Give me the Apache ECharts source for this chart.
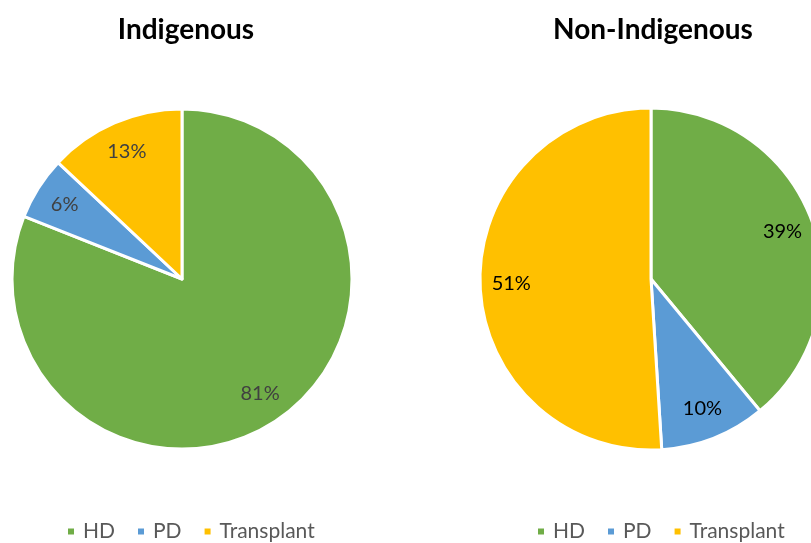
<!DOCTYPE html>
<html>
<head>
<meta charset="utf-8">
<script src="https://cdn.jsdelivr.net/npm/echarts@6/dist/echarts.min.js"></script>
<style>
  html, body { margin: 0; padding: 0; background: #fff; }
  #main { width: 811px; height: 543px; }
</style>
</head>
<body>
<div id="main"></div>
<script>
// categories and values (percent)
const categories = ["HD", "PD", "Transplant"];
const indigenous = [81, 6, 13];
const nonIndigenous = [39, 10, 51];
const colors = ["#70AD47", "#5B9BD5", "#FFC000"];
const titles = ["Indigenous", "Non-Indigenous"];

const font = "Lato, 'Open Sans', sans-serif";

function toData(values) {
  return categories.map((name, i) => ({ name: name, value: values[i] }));
}

// visible pie, no labels
function piePart(values, center, r) {
  return {
    type: "pie",
    center: center,
    radius: r,
    startAngle: 90,
    clockwise: true,
    label: { show: false },
    labelLine: { show: false },
    emphasis: { scale: false },
    itemStyle: { borderColor: "#fff", borderWidth: 3 },
    data: toData(values),
  };
}

// transparent ring used only to place the labels at ~0.8 of the radius
function labelPart(values, center, r, color) {
  return {
    type: "pie",
    center: center,
    radius: [r * 0.6, r],
    startAngle: 90,
    clockwise: true,
    silent: true,
    legendHoverLink: false,
    itemStyle: { color: "rgba(0,0,0,0)" },
    label: {
      show: true,
      position: "inside",
      formatter: "{c}%",
      color: color,
      fontSize: 20,
      fontFamily: font,
    },
    labelLine: { show: false },
    data: toData(values),
  };
}

function legendAt(left) {
  return {
    data: categories,
    left: left,
    top: 516,
    itemWidth: 8,
    itemHeight: 8,
    itemGap: 21,
    icon: "rect",
    textStyle: { fontSize: 21, color: "#595959", fontFamily: font, padding: [0, 0, 0, 3] },
  };
}

var myChart = echarts.init(document.getElementById("main"));
var option = {
  color: colors,
  animation: false,
  title: [
    {
      text: titles[0],
      left: 181,
      top: 11,
      textAlign: "center",
      textStyle: { fontSize: 28, fontWeight: "bold", color: "#000", fontFamily: font },
    },
    {
      text: titles[1],
      left: 648,
      top: 11,
      textAlign: "center",
      textStyle: { fontSize: 28, fontWeight: "bold", color: "#000", fontFamily: font },
    },
  ],
  legend: [legendAt(61), legendAt(531)],
  series: [
    piePart(indigenous, [182, 279], 170),
    piePart(nonIndigenous, [651, 279], 171),
    labelPart(indigenous, [182, 279], 170, "#404040"),
    labelPart(nonIndigenous, [651, 279], 171, "#000"),
  ],
};
myChart.setOption(option);
</script>
</body>
</html>
